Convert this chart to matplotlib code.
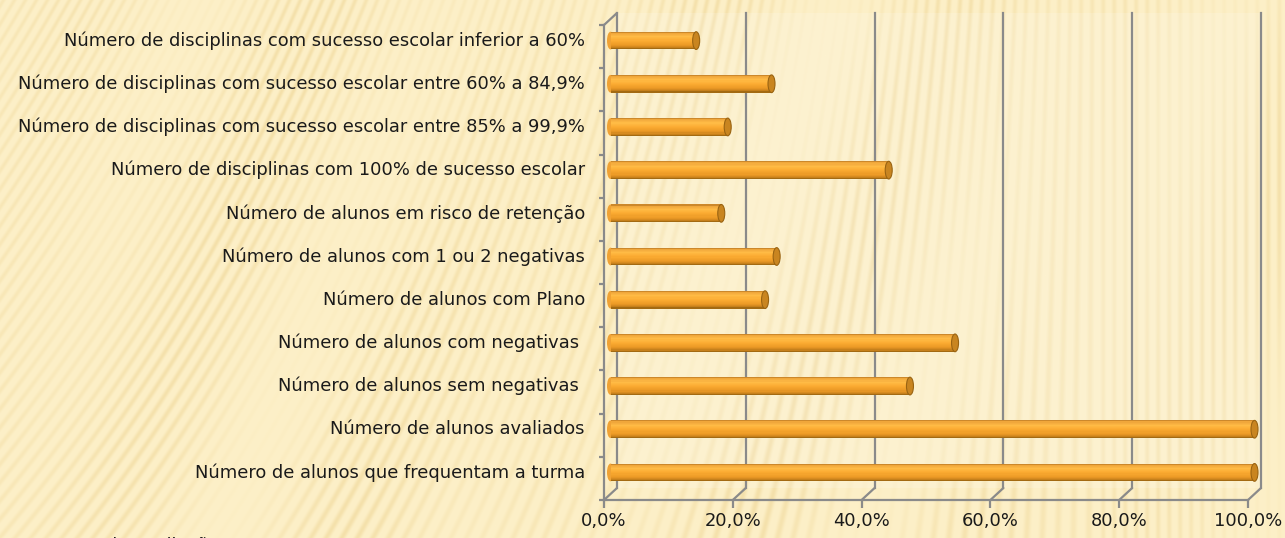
import matplotlib
matplotlib.use("Agg")
import matplotlib.pyplot as plt
import numpy as np
from matplotlib.colors import LinearSegmentedColormap
from matplotlib.patches import Ellipse, Rectangle
from matplotlib.transforms import ScaledTranslation, blended_transform_factory


CATEGORIAS = [
    "Número de disciplinas com sucesso escolar inferior a 60%",
    "Número de disciplinas com sucesso escolar entre 60% a 84,9%",
    "Número de disciplinas com sucesso escolar entre 85% a 99,9%",
    "Número de disciplinas com 100% de sucesso escolar",
    "Número de alunos em risco de retenção",
    "Número de alunos com 1 ou 2 negativas",
    "Número de alunos com Plano",
    "Número de alunos com negativas ",
    "Número de alunos sem negativas ",
    "Número de alunos avaliados",
    "Número de alunos que frequentam a turma",
]
PERCENTAGENS = [13.3, 25.0, 18.2, 43.2, 17.2, 25.8, 24.0, 53.5, 46.5, 100.0, 100.0]
XTICKS = [0, 20, 40, 60, 80, 100]
XTICK_LABELS = ["0,0%", "20,0%", "40,0%", "60,0%", "80,0%", "100,0%"]
RODAPE = "turmas de avaliação 7A"

W, H, DPI = 1285, 538, 100
CINZA = "#8a8a8a"
FONTE = "DejaVu Sans"
TAM = 12.9


def fundo_riscado():
    # textura creme com riscas diagonais, mais verticais para a direita
    yy, xx = np.mgrid[0:H, 0:W].astype(float)
    k = 0.6 * np.clip(1 - xx / 1100, 0, 1)
    fase = xx + k * yy
    risca = 0.5 + 0.5 * np.sin(2 * np.pi * fase / 11.0)
    risca = risca ** 2
    modul = 0.5 + 0.4 * np.sin(xx / 41.0 + yy / 95.0) * np.sin(xx / 173.0)
    w = np.clip(risca * modul, 0, 1)[..., None]
    claro = np.array([253, 240, 200]) / 255
    escuro = np.array([243, 222, 166]) / 255
    return claro * (1 - w) + escuro * w


def main():
    plt.rcParams["font.family"] = [FONTE]
    fig = plt.figure(figsize=(W / DPI, H / DPI), dpi=DPI)

    bg = fig.add_axes([0, 0, 1, 1])
    bg.imshow(fundo_riscado(), aspect="auto", interpolation="bilinear")
    bg.axis("off")

    ax = fig.add_axes([604 / W, (H - 500) / H, 644 / W, 475 / H])
    ax.set_facecolor("none")
    n = len(CATEGORIAS)
    ymin, ymax = n - 0.5, -0.5

    px = fig.dpi_scale_trans
    fundo = ax.transData + ScaledTranslation(13 / DPI, 12 / DPI, px)
    meio = ax.transData + ScaledTranslation(6.5 / DPI, 6 / DPI, px)

    # parede de fundo mais clara
    ax.add_patch(Rectangle((0, 0), 1, 1, transform=ax.transAxes + ScaledTranslation(13 / DPI, 12 / DPI, px),
                           facecolor="white", alpha=0.16, edgecolor="none", zorder=0, clip_on=False))

    # grelha em perspetiva
    for x in XTICKS:
        ax.plot([x, x], [ymin, ymax], color=CINZA, lw=1.6, transform=fundo, clip_on=False, zorder=1)
        ax.annotate("", xy=(x, ymin), xytext=(13 * 0.72, 12 * 0.72), textcoords="offset points",
                    arrowprops=dict(arrowstyle="-", color=CINZA, lw=1.6, shrinkA=0, shrinkB=0),
                    annotation_clip=False, zorder=1)
    ax.annotate("", xy=(0, ymax), xytext=(13 * 0.72, 12 * 0.72), textcoords="offset points",
                arrowprops=dict(arrowstyle="-", color=CINZA, lw=1.6, shrinkA=0, shrinkB=0),
                annotation_clip=False, zorder=1)

    # cilindros
    cmap = LinearSegmentedColormap.from_list("cil", [
        (0.0, "#b0721e"), (0.07, "#eea43a"), (0.28, "#ffbb45"), (0.5, "#fbab32"),
        (0.75, "#ec9a26"), (0.9, "#cc831c"), (1.0, "#93600e")])
    bh = 0.41
    fatias = 16
    ypos = np.arange(n)
    cap_w = 7 / 6.44
    for y in ypos:
        ax.add_patch(Ellipse((0, y), cap_w, bh, transform=meio, facecolor="#f0a234",
                             edgecolor="none", zorder=2, clip_on=False))
    for j in range(fatias):
        t = (j + 0.5) / fatias
        ax.barh(ypos - bh / 2 + t * bh, PERCENTAGENS, height=bh / fatias * 1.08, left=0,
                color=cmap(t), linewidth=0, transform=meio, zorder=3, clip_on=False)
    for y, v in zip(ypos, PERCENTAGENS):
        ax.add_patch(Ellipse((v, y), cap_w, bh, transform=meio, facecolor="#c98520",
                             edgecolor="#9a6412", lw=0.8, zorder=4, clip_on=False))

    # eixos
    for lado in ["top", "right"]:
        ax.spines[lado].set_visible(False)
    for lado in ["left", "bottom"]:
        ax.spines[lado].set_color(CINZA)
        ax.spines[lado].set_linewidth(1.6)
    ax.set_xlim(0, 100)
    ax.set_ylim(ymin, ymax)
    ax.set_xticks(XTICKS)
    ax.set_xticklabels(XTICK_LABELS)
    ax.tick_params(axis="x", length=5.8, width=1.6, color=CINZA, pad=3, labelsize=TAM,
                   labelcolor="#1a1a1a")
    ax.set_yticks([])
    ax.set_yticks(np.arange(-0.5, n, 1), minor=True)
    ax.tick_params(axis="y", which="minor", length=3.6, width=1.6, color=CINZA)

    rotulos = blended_transform_factory(ax.transAxes, ax.transData) + ScaledTranslation(0, 6 / DPI, px)
    for y, txt in zip(ypos, CATEGORIAS):
        ax.text(-19 / 644, y, txt, transform=rotulos, ha="right", va="center",
                fontsize=TAM, color="#1a1a1a")

    # legenda do diapositivo, cortada pelo fundo como no original
    fig.text(37 / W, -13 / H, RODAPE, ha="left", va="baseline", fontsize=TAM, color="#1a1a1a")

    fig.savefig("out.png", dpi=DPI)
    plt.close(fig)


if __name__ == "__main__":
    main()
